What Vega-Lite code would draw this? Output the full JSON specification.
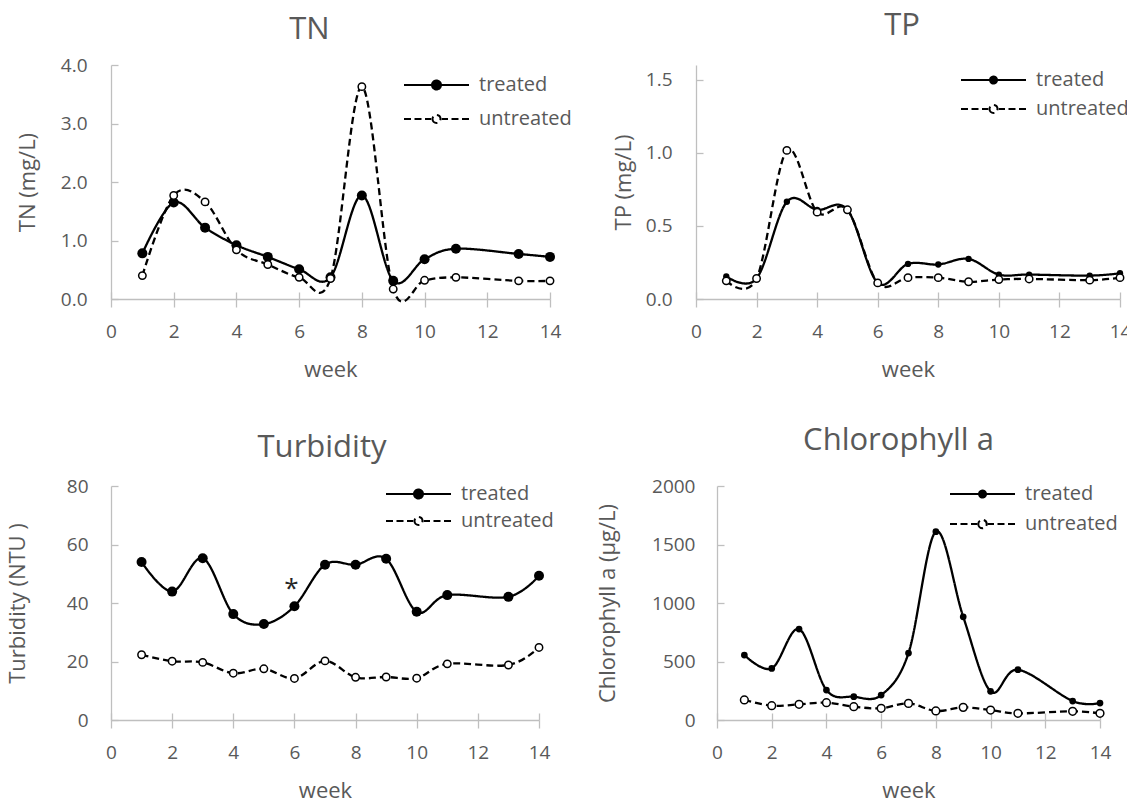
{
  "$schema": "https://vega.github.io/schema/vega-lite/v6.json",
  "background": "white",
  "padding": {"left": 6, "top": 10, "right": 0, "bottom": 0},
  "datasets": {
    "tn": [
      {"week": 1, "series": "treated", "value": 0.78}, {"week": 2, "series": "treated", "value": 1.65}, {"week": 3, "series": "treated", "value": 1.22}, {"week": 4, "series": "treated", "value": 0.92}, {"week": 5, "series": "treated", "value": 0.72}, {"week": 6, "series": "treated", "value": 0.51}, {"week": 7, "series": "treated", "value": 0.37}, {"week": 8, "series": "treated", "value": 1.77}, {"week": 9, "series": "treated", "value": 0.31}, {"week": 10, "series": "treated", "value": 0.68}, {"week": 11, "series": "treated", "value": 0.86}, {"week": 13, "series": "treated", "value": 0.77}, {"week": 14, "series": "treated", "value": 0.72},
      {"week": 1, "series": "untreated", "value": 0.40}, {"week": 2, "series": "untreated", "value": 1.77}, {"week": 3, "series": "untreated", "value": 1.66}, {"week": 4, "series": "untreated", "value": 0.84}, {"week": 5, "series": "untreated", "value": 0.59}, {"week": 6, "series": "untreated", "value": 0.37}, {"week": 7, "series": "untreated", "value": 0.35}, {"week": 8, "series": "untreated", "value": 3.63}, {"week": 9, "series": "untreated", "value": 0.17}, {"week": 10, "series": "untreated", "value": 0.32}, {"week": 11, "series": "untreated", "value": 0.37}, {"week": 13, "series": "untreated", "value": 0.31}, {"week": 14, "series": "untreated", "value": 0.31}
    ],
    "tp": [
      {"week": 1, "series": "treated", "value": 0.155}, {"week": 2, "series": "treated", "value": 0.14}, {"week": 3, "series": "treated", "value": 0.665}, {"week": 4, "series": "treated", "value": 0.61}, {"week": 5, "series": "treated", "value": 0.61}, {"week": 6, "series": "treated", "value": 0.11}, {"week": 7, "series": "treated", "value": 0.24}, {"week": 8, "series": "treated", "value": 0.236}, {"week": 9, "series": "treated", "value": 0.274}, {"week": 10, "series": "treated", "value": 0.167}, {"week": 11, "series": "treated", "value": 0.167}, {"week": 13, "series": "treated", "value": 0.16}, {"week": 14, "series": "treated", "value": 0.176},
      {"week": 1, "series": "untreated", "value": 0.124}, {"week": 2, "series": "untreated", "value": 0.14}, {"week": 3, "series": "untreated", "value": 1.016}, {"week": 4, "series": "untreated", "value": 0.594}, {"week": 5, "series": "untreated", "value": 0.61}, {"week": 6, "series": "untreated", "value": 0.11}, {"week": 7, "series": "untreated", "value": 0.146}, {"week": 8, "series": "untreated", "value": 0.146}, {"week": 9, "series": "untreated", "value": 0.118}, {"week": 10, "series": "untreated", "value": 0.133}, {"week": 11, "series": "untreated", "value": 0.137}, {"week": 13, "series": "untreated", "value": 0.129}, {"week": 14, "series": "untreated", "value": 0.146}
    ],
    "turb": [
      {"week": 1, "series": "treated", "value": 54.0}, {"week": 2, "series": "treated", "value": 43.9}, {"week": 3, "series": "treated", "value": 55.3}, {"week": 4, "series": "treated", "value": 36.2}, {"week": 5, "series": "treated", "value": 32.8}, {"week": 6, "series": "treated", "value": 38.9}, {"week": 7, "series": "treated", "value": 53.1}, {"week": 8, "series": "treated", "value": 53.1}, {"week": 9, "series": "treated", "value": 55.1}, {"week": 10, "series": "treated", "value": 37.0}, {"week": 11, "series": "treated", "value": 42.7}, {"week": 13, "series": "treated", "value": 42.1}, {"week": 14, "series": "treated", "value": 49.3},
      {"week": 1, "series": "untreated", "value": 22.3}, {"week": 2, "series": "untreated", "value": 20.1}, {"week": 3, "series": "untreated", "value": 19.7}, {"week": 4, "series": "untreated", "value": 16.0}, {"week": 5, "series": "untreated", "value": 17.5}, {"week": 6, "series": "untreated", "value": 14.2}, {"week": 7, "series": "untreated", "value": 20.2}, {"week": 8, "series": "untreated", "value": 14.6}, {"week": 9, "series": "untreated", "value": 14.7}, {"week": 10, "series": "untreated", "value": 14.3}, {"week": 11, "series": "untreated", "value": 19.2}, {"week": 13, "series": "untreated", "value": 18.8}, {"week": 14, "series": "untreated", "value": 24.8}
    ],
    "chl": [
      {"week": 1, "series": "treated", "value": 555}, {"week": 2, "series": "treated", "value": 441}, {"week": 3, "series": "treated", "value": 777}, {"week": 4, "series": "treated", "value": 256}, {"week": 5, "series": "treated", "value": 199}, {"week": 6, "series": "treated", "value": 213}, {"week": 7, "series": "treated", "value": 572}, {"week": 8, "series": "treated", "value": 1610}, {"week": 9, "series": "treated", "value": 882}, {"week": 10, "series": "treated", "value": 245}, {"week": 11, "series": "treated", "value": 430}, {"week": 13, "series": "treated", "value": 162}, {"week": 14, "series": "treated", "value": 145},
      {"week": 1, "series": "untreated", "value": 171}, {"week": 2, "series": "untreated", "value": 122}, {"week": 3, "series": "untreated", "value": 134}, {"week": 4, "series": "untreated", "value": 148}, {"week": 5, "series": "untreated", "value": 114}, {"week": 6, "series": "untreated", "value": 100}, {"week": 7, "series": "untreated", "value": 142}, {"week": 8, "series": "untreated", "value": 77}, {"week": 9, "series": "untreated", "value": 108}, {"week": 10, "series": "untreated", "value": 85}, {"week": 11, "series": "untreated", "value": 57}, {"week": 13, "series": "untreated", "value": 74}, {"week": 14, "series": "untreated", "value": 57}
    ],
    "star": [{"week": 6, "value": 45.3, "label": "*"}]
  },
  "vconcat": [
    {
      "spacing": 40,
      "resolve": {"scale": {"x": "independent", "y": "independent", "strokeDash": "independent"}, "legend": {"strokeDash": "independent"}},
      "hconcat": [
        {
          "width": 439, "height": 234,
          "title": {"text": "TN", "frame": "group", "anchor": "middle", "dx": -21, "offset": -14, "baseline": "alphabetic"},
          "data": {"name": "tn"},
          "resolve": {"axis": {"x": "independent"}},
          "layer": [
            {
              "mark": {"type": "line", "interpolate": "cardinal", "strokeWidth": 2.3, "color": "black"},
              "encoding": {
                "x": {"field": "week", "type": "quantitative", "scale": {"domain": [0, 14]}, "axis": {"values": [0, 2, 4, 6, 8, 10, 12, 14], "tickSize": 8, "labelPadding": 15, "labelFlush": false, "title": "week", "titlePadding": 18}},
                "y": {"field": "value", "type": "quantitative", "scale": {"domain": [0, 4]}, "axis": {"values": [0, 1, 2, 3, 4], "format": ".1f", "tickSize": -7, "labelPadding": 31, "title": "TN (mg/L)", "titlePadding": 21}},
                "strokeDash": {"field": "series", "type": "nominal", "scale": {"domain": ["treated", "untreated"], "range": [[1, 0], [7, 4]]},
                  "legend": {"title": null, "orient": "none", "legendX": 292, "legendY": 9, "symbolSize": 400, "symbolType": "M-1,0H5.5", "rowPadding": 13, "labelOffset": 54, "padding": 0, "symbolStrokeWidth": 2.2, "symbolStrokeColor": "black",
                    "encode": {"symbols": {"update": {
                      "shape": {"signal": "datum.value === 'treated' ? 'M-1,0H5.5M1.8,0A0.45,0.45 0 1,0 2.7,0A0.45,0.45 0 1,0 1.8,0Z' : 'M-1,0H-0.3M0.05,0H0.75M1.1,0H1.72M2.78,0H3.4M3.75,0H4.45M4.8,0H5.5M1.85,0A0.4,0.4 0 1,0 2.65,0A0.4,0.4 0 1,0 1.85,0Z'"},
                      "fill": {"signal": "datum.value === 'treated' ? 'black' : 'white'"},
                      "strokeDash": {"value": [1, 0]}, "stroke": {"value": "black"}, "strokeWidth": {"value": 2}, "opacity": {"value": 1}}}}}}
              }
            },
            {
              "transform": [{"filter": "datum.series == 'treated'"}],
              "mark": {"type": "point", "shape": "circle", "filled": true, "fill": "black", "strokeWidth": 0, "size": 100, "opacity": 1},
              "encoding": {
                "x": {"field": "week", "type": "quantitative", "axis": {"orient": "bottom", "values": [0, 2, 4, 6, 8, 10, 12, 14], "tickSize": -7, "labels": false, "domain": false, "title": null}},
                "y": {"field": "value", "type": "quantitative"}
              }
            },
            {
              "transform": [{"filter": "datum.series == 'untreated'"}],
              "mark": {"type": "point", "shape": "circle", "filled": true, "fill": "white", "stroke": "black", "strokeWidth": 1.5, "size": 55, "opacity": 1},
              "encoding": {
                "x": {"field": "week", "type": "quantitative", "axis": null},
                "y": {"field": "value", "type": "quantitative"}
              }
            }
          ]
        },
        {
          "width": 424, "height": 234,
          "title": {"text": "TP", "frame": "group", "anchor": "middle", "dx": -6, "offset": -1, "baseline": "alphabetic"},
          "data": {"name": "tp"},
          "resolve": {"axis": {"x": "independent"}},
          "layer": [
            {
              "mark": {"type": "line", "interpolate": "cardinal", "strokeWidth": 2.3, "color": "black"},
              "encoding": {
                "x": {"field": "week", "type": "quantitative", "scale": {"domain": [0, 14]}, "axis": {"values": [0, 2, 4, 6, 8, 10, 12, 14], "tickSize": 8, "labelPadding": 15, "labelFlush": false, "title": "week", "titlePadding": 18}},
                "y": {"field": "value", "type": "quantitative", "scale": {"domain": [0, 1.5]}, "axis": {"values": [0, 0.5, 1, 1.5], "format": ".1f", "tickSize": -7, "labelPadding": 31, "title": "TP (mg/L)", "titlePadding": 10}},
                "strokeDash": {"field": "series", "type": "nominal", "scale": {"domain": ["treated", "untreated"], "range": [[1, 0], [7, 4]]},
                  "legend": {"title": null, "orient": "none", "legendX": 264, "legendY": 4, "symbolSize": 400, "symbolType": "M-1,0H5.5", "rowPadding": 8, "labelOffset": 54, "padding": 0, "symbolStrokeWidth": 2.2, "symbolStrokeColor": "black",
                    "encode": {"symbols": {"update": {
                      "shape": {"signal": "datum.value === 'treated' ? 'M-1,0H5.5M1.9,0A0.35,0.35 0 1,0 2.6,0A0.35,0.35 0 1,0 1.9,0Z' : 'M-1,0H-0.3M0.05,0H0.75M1.1,0H1.72M2.78,0H3.4M3.75,0H4.45M4.8,0H5.5M1.85,0A0.4,0.4 0 1,0 2.65,0A0.4,0.4 0 1,0 1.85,0Z'"},
                      "fill": {"signal": "datum.value === 'treated' ? 'black' : 'white'"},
                      "strokeDash": {"value": [1, 0]}, "stroke": {"value": "black"}, "strokeWidth": {"value": 2}, "opacity": {"value": 1}}}}}}
              }
            },
            {
              "transform": [{"filter": "datum.series == 'treated'"}],
              "mark": {"type": "point", "shape": "circle", "filled": true, "fill": "black", "strokeWidth": 0, "size": 40, "opacity": 1},
              "encoding": {
                "x": {"field": "week", "type": "quantitative", "axis": {"orient": "bottom", "values": [0, 2, 4, 6, 8, 10, 12, 14], "tickSize": -7, "labels": false, "domain": false, "title": null}},
                "y": {"field": "value", "type": "quantitative"}
              }
            },
            {
              "transform": [{"filter": "datum.series == 'untreated'"}],
              "mark": {"type": "point", "shape": "circle", "filled": true, "fill": "white", "stroke": "black", "strokeWidth": 1.5, "size": 55, "opacity": 1},
              "encoding": {
                "x": {"field": "week", "type": "quantitative", "axis": null},
                "y": {"field": "value", "type": "quantitative"}
              }
            }
          ]
        }
      ]
    },
    {
      "spacing": 42,
      "resolve": {"scale": {"x": "independent", "y": "independent", "strokeDash": "independent"}, "legend": {"strokeDash": "independent"}},
      "hconcat": [
        {
          "width": 428, "height": 234,
          "title": {"text": "Turbidity", "frame": "group", "anchor": "middle", "dx": -3, "offset": -11, "baseline": "alphabetic"},
          "resolve": {"axis": {"x": "independent"}},
          "layer": [
            {
              "data": {"name": "turb"},
              "mark": {"type": "line", "interpolate": "cardinal", "strokeWidth": 2.3, "color": "black"},
              "encoding": {
                "x": {"field": "week", "type": "quantitative", "scale": {"domain": [0, 14]}, "axis": {"values": [0, 2, 4, 6, 8, 10, 12, 14], "tickSize": 8, "labelPadding": 15, "labelFlush": false, "title": "week", "titlePadding": 18}},
                "y": {"field": "value", "type": "quantitative", "scale": {"domain": [0, 80]}, "axis": {"values": [0, 20, 40, 60, 80], "format": "d", "tickSize": -7, "labelPadding": 30, "title": "Turbidity (NTU )", "titlePadding": 37}},
                "strokeDash": {"field": "series", "type": "nominal", "scale": {"domain": ["treated", "untreated"], "range": [[1, 0], [7, 4]]},
                  "legend": {"title": null, "orient": "none", "legendX": 274, "legendY": -3, "symbolSize": 400, "symbolType": "M-1,0H5.5", "rowPadding": 6, "labelOffset": 54, "padding": 0, "symbolStrokeWidth": 2.2, "symbolStrokeColor": "black",
                    "encode": {"symbols": {"update": {
                      "shape": {"signal": "datum.value === 'treated' ? 'M-1,0H5.5M1.8,0A0.45,0.45 0 1,0 2.7,0A0.45,0.45 0 1,0 1.8,0Z' : 'M-1,0H-0.3M0.05,0H0.75M1.1,0H1.72M2.78,0H3.4M3.75,0H4.45M4.8,0H5.5M1.85,0A0.4,0.4 0 1,0 2.65,0A0.4,0.4 0 1,0 1.85,0Z'"},
                      "fill": {"signal": "datum.value === 'treated' ? 'black' : 'white'"},
                      "strokeDash": {"value": [1, 0]}, "stroke": {"value": "black"}, "strokeWidth": {"value": 2}, "opacity": {"value": 1}}}}}}
              }
            },
            {
              "data": {"name": "turb"},
              "transform": [{"filter": "datum.series == 'treated'"}],
              "mark": {"type": "point", "shape": "circle", "filled": true, "fill": "black", "strokeWidth": 0, "size": 100, "opacity": 1},
              "encoding": {
                "x": {"field": "week", "type": "quantitative", "axis": {"orient": "bottom", "values": [0, 2, 4, 6, 8, 10, 12, 14], "tickSize": -7, "labels": false, "domain": false, "title": null}},
                "y": {"field": "value", "type": "quantitative"}
              }
            },
            {
              "data": {"name": "turb"},
              "transform": [{"filter": "datum.series == 'untreated'"}],
              "mark": {"type": "point", "shape": "circle", "filled": true, "fill": "white", "stroke": "black", "strokeWidth": 1.5, "size": 55, "opacity": 1},
              "encoding": {
                "x": {"field": "week", "type": "quantitative", "axis": null},
                "y": {"field": "value", "type": "quantitative"}
              }
            },
            {
              "data": {"name": "star"},
              "mark": {"type": "text", "fontSize": 26, "color": "#262626", "baseline": "middle", "dx": -3, "dy": 2},
              "encoding": {
                "x": {"field": "week", "type": "quantitative", "axis": null},
                "y": {"field": "value", "type": "quantitative"},
                "text": {"field": "label"}
              }
            }
          ]
        },
        {
          "width": 383, "height": 234,
          "title": {"text": "Chlorophyll a", "frame": "group", "anchor": "middle", "dx": -10, "offset": -4, "baseline": "alphabetic"},
          "data": {"name": "chl"},
          "resolve": {"axis": {"x": "independent"}},
          "layer": [
            {
              "mark": {"type": "line", "interpolate": "cardinal", "strokeWidth": 2.3, "color": "black"},
              "encoding": {
                "x": {"field": "week", "type": "quantitative", "scale": {"domain": [0, 14]}, "axis": {"values": [0, 2, 4, 6, 8, 10, 12, 14], "tickSize": 8, "labelPadding": 15, "labelFlush": false, "title": "week", "titlePadding": 18}},
                "y": {"field": "value", "type": "quantitative", "scale": {"domain": [0, 2000]}, "axis": {"values": [0, 500, 1000, 1500, 2000], "format": "d", "tickSize": -7, "labelPadding": 29, "title": "Chlorophyll a (μg/L)", "titlePadding": 32}},
                "strokeDash": {"field": "series", "type": "nominal", "scale": {"domain": ["treated", "untreated"], "range": [[1, 0], [7, 4]]},
                  "legend": {"title": null, "orient": "none", "legendX": 232, "legendY": -3, "symbolSize": 400, "symbolType": "M-1,0H5.5", "rowPadding": 9, "labelOffset": 54, "padding": 0, "symbolStrokeWidth": 2.2, "symbolStrokeColor": "black",
                    "encode": {"symbols": {"update": {
                      "shape": {"signal": "datum.value === 'treated' ? 'M-1,0H5.5M1.9,0A0.35,0.35 0 1,0 2.6,0A0.35,0.35 0 1,0 1.9,0Z' : 'M-1,0H-0.3M0.05,0H0.75M1.1,0H1.72M2.78,0H3.4M3.75,0H4.45M4.8,0H5.5M1.83,0A0.42,0.42 0 1,0 2.67,0A0.42,0.42 0 1,0 1.83,0Z'"},
                      "fill": {"signal": "datum.value === 'treated' ? 'black' : 'white'"},
                      "strokeDash": {"value": [1, 0]}, "stroke": {"value": "black"}, "strokeWidth": {"value": 2}, "opacity": {"value": 1}}}}}}
              }
            },
            {
              "transform": [{"filter": "datum.series == 'treated'"}],
              "mark": {"type": "point", "shape": "circle", "filled": true, "fill": "black", "strokeWidth": 0, "size": 45, "opacity": 1},
              "encoding": {
                "x": {"field": "week", "type": "quantitative", "axis": {"orient": "bottom", "values": [0, 2, 4, 6, 8, 10, 12, 14], "tickSize": -7, "labels": false, "domain": false, "title": null}},
                "y": {"field": "value", "type": "quantitative"}
              }
            },
            {
              "transform": [{"filter": "datum.series == 'untreated'"}],
              "mark": {"type": "point", "shape": "circle", "filled": true, "fill": "white", "stroke": "black", "strokeWidth": 1.5, "size": 60, "opacity": 1},
              "encoding": {
                "x": {"field": "week", "type": "quantitative", "axis": null},
                "y": {"field": "value", "type": "quantitative"}
              }
            }
          ]
        }
      ]
    }
  ],
  "spacing": 45,
  "resolve": {"scale": {"x": "independent", "y": "independent", "strokeDash": "independent"}, "legend": {"strokeDash": "independent"}},
  "config": {
    "view": {"stroke": null},
    "font": "Open Sans",
    "axis": {"domainColor": "#bfbfbf", "tickColor": "#bfbfbf", "domainWidth": 1.3, "tickWidth": 1.3, "labelColor": "#595959", "titleColor": "#595959", "labelFontSize": 19, "titleFontSize": 22, "titleFontWeight": "normal", "grid": false, "labelFont": "Open Sans", "titleFont": "Open Sans"},
    "title": {"fontSize": 31, "fontWeight": "normal", "color": "#595959", "font": "Open Sans"},
    "legend": {"labelFontSize": 20, "labelColor": "#595959", "labelFont": "Open Sans"}
  }
}
